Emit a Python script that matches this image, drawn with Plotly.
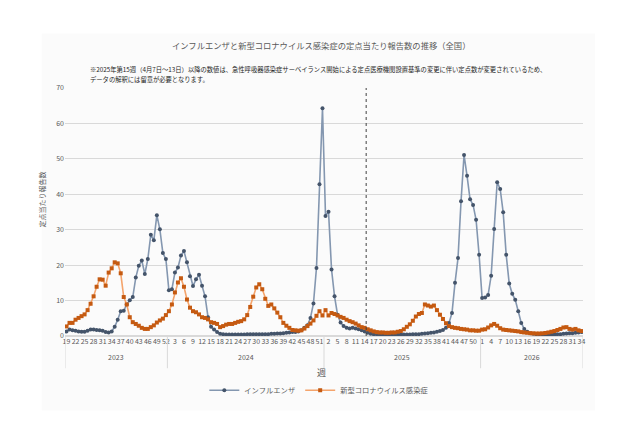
import plotly.graph_objects as go

# 週ごとの定点当たり報告数
years = [2023, 2024, 2025, 2026]
week_ranges = {2023: (19, 52), 2024: (1, 52), 2025: (1, 52), 2026: (1, 34)}

flu_2023 = [1.3, 1.8, 1.6, 1.5, 1.3, 1.2, 1.2, 1.5, 1.8, 1.8, 1.7, 1.6, 1.5, 1.1, 1.0, 1.3, 2.6,
            4.6, 7.0, 7.1, 8.9, 10.1, 11.0, 16.5, 19.8, 21.3, 17.5, 21.7, 28.6, 27.0, 34.1, 30.1,
            23.4, 21.7]
flu_2024 = [12.9, 13.2, 17.9, 19.3, 22.7, 24.0, 20.8, 16.9, 14.1, 16.0, 17.3, 14.2, 11.2, 5.3,
            2.6, 1.8, 1.1, 0.6, 0.5, 0.4, 0.4, 0.4, 0.4, 0.4, 0.4, 0.4, 0.5, 0.5, 0.5, 0.5, 0.5,
            0.5, 0.5, 0.5, 0.6, 0.6, 0.7, 0.7, 0.8, 0.9, 1.0, 1.1, 1.1, 1.3, 1.6, 2.3, 3.0, 5.1,
            9.2, 19.2, 42.8, 64.3]
flu_2025 = [33.9, 35.1, 18.8, 11.2, 6.0, 3.8, 2.8, 2.3, 2.1, 2.3, 2.1, 1.9, 1.6, 1.3, 0.9, 0.6,
            0.5, 0.5, 0.4, 0.4, 0.4, 0.4, 0.4, 0.4, 0.4, 0.4, 0.4, 0.4, 0.4, 0.5, 0.5, 0.5, 0.6,
            0.7, 0.8, 0.9, 1.0, 1.2, 1.4, 1.7, 2.3, 3.7, 6.5, 15.0, 22.0, 38.0, 51.1, 45.2, 38.6,
            37.0, 32.8, 22.9]
flu_2026 = [10.7, 10.9, 11.6, 17.0, 30.2, 43.4, 41.5, 34.9, 22.9, 14.8, 11.9, 10.2, 7.0, 3.7,
            2.0, 1.2, 0.8, 0.6, 0.5, 0.5, 0.4, 0.4, 0.4, 0.4, 0.4, 0.5, 0.5, 0.6, 0.7, 0.8, 0.8,
            0.9, 1.0, 1.1]

covid_2023 = [2.7, 3.7, 3.7, 4.6, 5.1, 5.6, 6.1, 7.3, 9.1, 11.2, 13.9, 16.0, 15.9, 14.2, 17.9,
              19.1, 20.8, 20.5, 17.7, 11.0, 8.9, 5.3, 3.9, 3.4, 2.9, 2.3, 2.0, 2.0, 2.5, 3.0, 3.8,
              4.4, 4.9, 5.9]
covid_2024 = [7.0, 8.9, 12.3, 15.1, 16.3, 13.9, 10.3, 8.0, 7.0, 6.7, 6.1, 5.3, 5.1, 4.7, 3.9,
              3.7, 3.4, 2.5, 2.8, 3.2, 3.4, 3.4, 3.7, 4.0, 4.2, 4.7, 5.9, 8.2, 11.1, 13.7, 14.6,
              13.2, 10.5, 8.5, 8.9, 7.8, 6.6, 5.3, 3.7, 2.9, 2.3, 1.7, 1.6, 1.5, 1.6, 2.1, 2.8,
              3.5, 4.4, 5.7, 7.0, 5.8]
covid_2025 = [7.3, 5.8, 6.5, 6.2, 5.8, 5.4, 5.1, 4.6, 4.2, 3.9, 3.5, 3.0, 2.5, 2.3, 1.9, 1.6,
              1.3, 1.1, 1.0, 1.0, 0.9, 0.9, 1.0, 1.0, 1.2, 1.4, 1.9, 2.6, 3.3, 4.3, 5.5, 6.2, 6.5,
              8.9, 8.6, 8.3, 8.6, 7.3, 6.0, 4.8, 3.6, 2.8, 2.5, 2.3, 2.2, 2.0, 1.9, 1.8, 1.6, 1.6,
              1.5, 1.5]
covid_2026 = [1.8, 1.9, 2.4, 3.0, 3.4, 2.9, 2.2, 1.8, 1.7, 1.6, 1.5, 1.4, 1.3, 1.1, 1.0, 0.9,
              0.8, 0.75, 0.7, 0.7, 0.75, 0.85, 1.0, 1.2, 1.4, 1.7, 2.0, 2.4, 2.5, 2.0, 1.8, 2.0,
              1.6, 1.4]

flu = flu_2023 + flu_2024 + flu_2025 + flu_2026
covid = covid_2023 + covid_2024 + covid_2025 + covid_2026

week_labels = []
year_of = []
for yr in years:
    a, b = week_ranges[yr]
    for w in range(a, b + 1):
        week_labels.append(str(w))
        year_of.append(yr)
x = list(range(len(week_labels)))

# 2025年第15週から定点数変更
change_idx = year_of.index(2025) + 14 - 0.5

FONT = "Noto Sans CJK JP"
GRAY = "#595959"

fig = go.Figure()
fig.add_trace(go.Scatter(
    x=x, y=flu, name="インフルエンザ", mode="lines+markers",
    line=dict(color="#8497b0", width=1.6),
    marker=dict(symbol="circle", size=4, color="#44546a"),
))
fig.add_trace(go.Scatter(
    x=x, y=covid, name="新型コロナウイルス感染症", mode="lines+markers",
    line=dict(color="#f4a46c", width=1.6),
    marker=dict(symbol="square", size=4, color="#c55a11"),
))

# chart background box
fig.add_shape(type="rect", xref="paper", yref="paper", x0=-0.045, x1=1.023, y0=-0.3, y1=1.22,
              fillcolor="#fbfbfb", line=dict(width=0), layer="below")

fig.add_shape(type="line", xref="x", yref="y", x0=change_idx, x1=change_idx, y0=0, y1=70,
              line=dict(color="#404040", width=1, dash="dot"))

# year dividers + labels
bounds = [-0.5]
for yr in years:
    bounds.append(bounds[-1] + year_of.count(yr))
for b in bounds:
    fig.add_shape(type="line", xref="x", yref="paper", x0=b, x1=b, y0=0, y1=-0.13,
                  line=dict(color="#d9d9d9", width=1))
for i, yr in enumerate(years):
    fig.add_annotation(x=(bounds[i] + bounds[i + 1]) / 2, y=-0.084, xref="x", yref="paper",
                       yanchor="middle", text=str(yr), showarrow=False,
                       font=dict(size=7, color=GRAY))

fig.add_annotation(x=0.494, y=1.173, xref="paper", yref="paper", showarrow=False,
                   yanchor="middle",
                   text="インフルエンザと新型コロナウイルス感染症の定点当たり報告数の推移（全国）",
                   font=dict(size=8.3, color=GRAY))
fig.add_annotation(x=0.044, y=1.076, xref="paper", yref="paper", showarrow=False, xanchor="left",
                   yanchor="middle",
                   text="※2025年第15週（4月7日～13日）以降の数値は、急性呼吸器感染症サーベイランス開始による定点医療機関設置基準の変更に伴い定点数が変更されているため、",
                   font=dict(size=6.3, color="#262626"))
fig.add_annotation(x=0.044, y=1.034, xref="paper", yref="paper", showarrow=False, xanchor="left",
                   yanchor="middle",
                   text="データの解釈には留意が必要となります。",
                   font=dict(size=6.3, color="#262626"))
fig.add_annotation(x=-0.058, y=0.55, xref="paper", yref="paper", showarrow=False, textangle=-90,
                   text="定点当たり報告数", font=dict(size=7, color=GRAY))
fig.add_annotation(x=0.496, y=-0.146, xref="paper", yref="paper", showarrow=False,
                   yanchor="middle", text="週", font=dict(size=9, color=GRAY))

fig.update_layout(
    width=640, height=426,
    margin=dict(l=57, r=65, t=80, b=98),
    paper_bgcolor="white", plot_bgcolor="#fbfbfb",
    font=dict(family=FONT, color=GRAY),
    showlegend=True,
    legend=dict(orientation="h", x=0.49, xanchor="center", y=-0.16, yanchor="top",
                itemwidth=30, font=dict(size=7.3, color=GRAY), bgcolor="rgba(0,0,0,0)"),
    xaxis=dict(range=[-0.5, len(x) - 0.5], tickmode="array", tickvals=x[::3],
               ticktext=week_labels[::3], tickangle=0, tickfont=dict(size=7, color=GRAY),
               showgrid=False, zeroline=False, showline=False, ticks=""),
    yaxis=dict(range=[0, 70], dtick=10, tickfont=dict(size=7, color=GRAY),
               gridcolor="#d9d9d9", gridwidth=1, zeroline=True, zerolinecolor="#d9d9d9",
               showline=False, ticks=""),
)

fig.write_html("out.html")
